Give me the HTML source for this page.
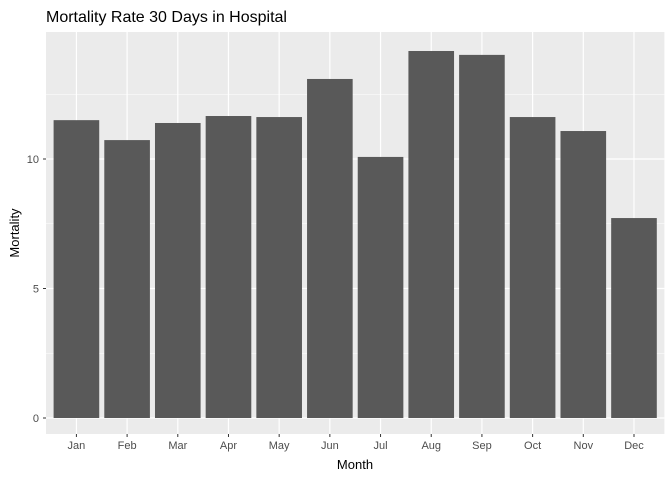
<!DOCTYPE html>
<html><head><meta charset="utf-8"><style>
body{margin:0;background:#fff;}
svg{display:block;font-family:"Liberation Sans",sans-serif;}
</style></head><body>
<svg id="chart" width="672" height="480">
<text x="46" y="22" font-size="16" fill="#000">Mortality Rate 30 Days in Hospital</text>
<rect x="46" y="32" width="618.4" height="402" fill="#ebebeb"/>
<g id="grid"></g><g id="bars"></g><g id="axes"></g>
<text x="355" y="469" font-size="13" text-anchor="middle" fill="#000">Month</text>
<text transform="translate(19,233) rotate(-90)" font-size="13" text-anchor="middle" fill="#000">Mortality</text>
</svg>
<script>
const months=["Jan","Feb","Mar","Apr","May","Jun","Jul","Aug","Sep","Oct","Nov","Dec"];
const mortality=[11.5,10.73,11.39,11.66,11.62,13.09,10.08,14.17,14.02,11.62,11.08,7.72];
const yTicks=[0,5,10];
const yMinor=[2.5,7.5,12.5];
const NS="http://www.w3.org/2000/svg";
const L=46,R=664.4,T=32,B=434;
const step=(R-L)/(months.length+0.2);
const x=i=>L+step*(0.6+i);
const y0=418,ppu=25.9;
const y=v=>y0-v*ppu;
function mk(tag,attrs,parent){const e=document.createElementNS(NS,tag);for(const k in attrs)e.setAttribute(k,attrs[k]);document.getElementById(parent).appendChild(e);return e;}
yMinor.forEach(v=>{const l=mk('line',{x1:L,x2:R,y1:y(v),y2:y(v),stroke:'#fff','stroke-width':0.6},'grid');

});
yTicks.forEach(v=>{const l=mk('line',{x1:L,x2:R,y1:y(v),y2:y(v),stroke:'#fff','stroke-width':1.2},'grid');


const t=mk('text',{x:L-7,y:y(v)+4,'font-size':11,'text-anchor':'end',fill:'#4d4d4d'},'axes');t.textContent=v;


const tk=mk('line',{x1:L-3,x2:L,y1:y(v),y2:y(v),stroke:'#333','stroke-width':1},'axes');

});
months.forEach((m,i)=>{const l=mk('line',{x1:x(i),x2:x(i),y1:T,y2:B,stroke:'#fff','stroke-width':1.2},'grid');


const w=step*0.9;
const b=mk('rect',{x:x(i)-w/2,y:y(mortality[i]),width:w,height:y0-y(mortality[i]),fill:'#595959'},'bars');


const tk=mk('line',{x1:x(i),x2:x(i),y1:B,y2:B+3,stroke:'#333','stroke-width':1},'axes');


const t=mk('text',{x:x(i),y:B+15,'font-size':11,'text-anchor':'middle',fill:'#4d4d4d'},'axes');t.textContent=m;

});
</script>
</body></html>
